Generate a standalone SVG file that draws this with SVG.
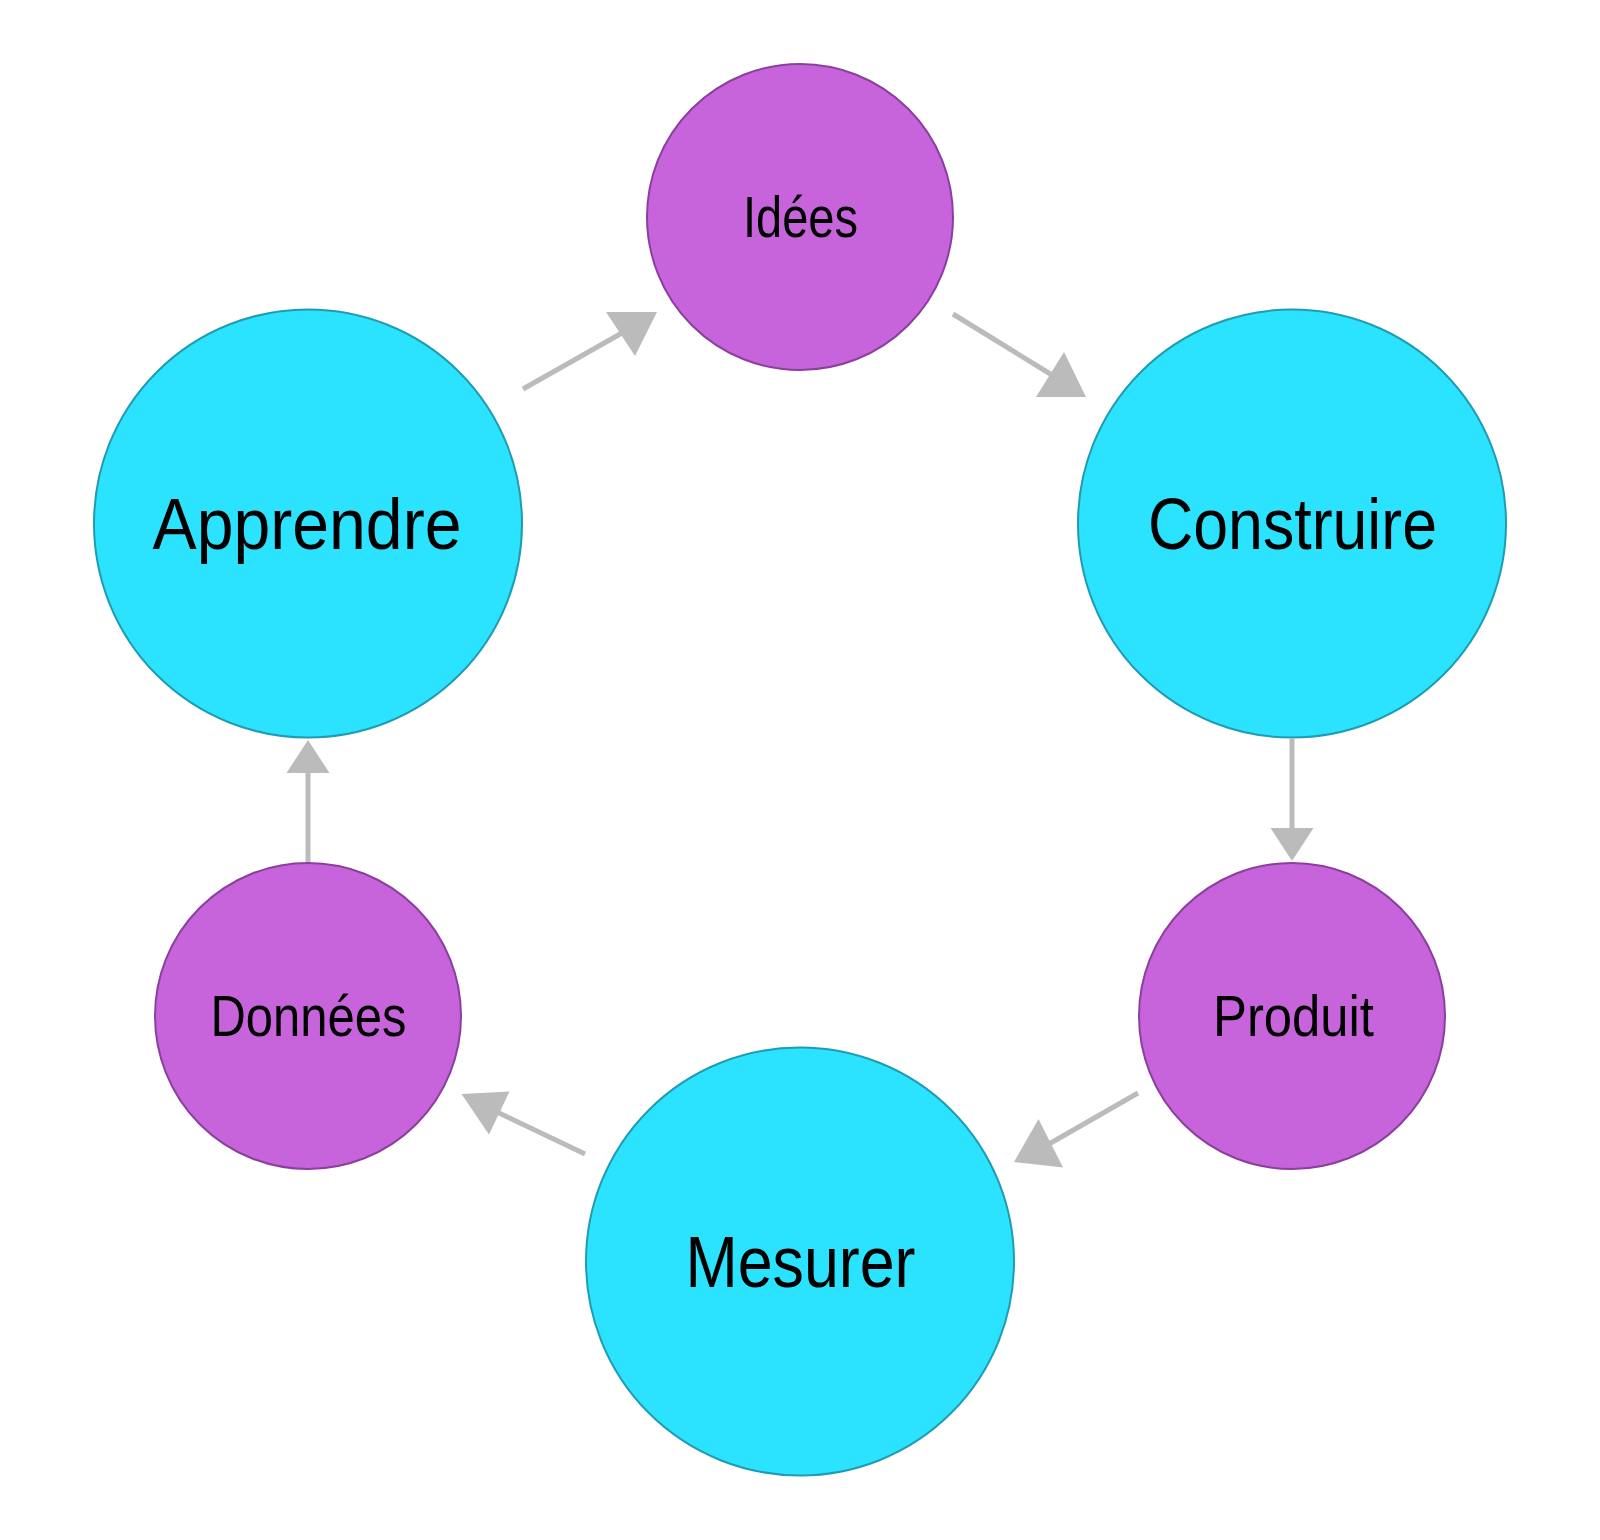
<svg xmlns="http://www.w3.org/2000/svg" width="1600" height="1540" viewBox="0 0 1600 1540">
  <style>
    .big { fill: #2BE3FF; stroke: #1F9CB3; stroke-width: 2; }
    .small { fill: #C764DC; stroke: #8A3F9C; stroke-width: 2; }
    .lbl { font-family: "Liberation Sans", Arial, sans-serif; fill: #000000; text-anchor: middle; }
    .lbig { font-size: 72px; }
    .lsmall { font-size: 58px; }
    .edge { stroke: #BBBBBB; stroke-width: 5; fill: none; }
    .head { fill: #BBBBBB; stroke: none; }
  </style>
  <rect x="0" y="0" width="1600" height="1540" fill="#FFFFFF"/>

  <g id="connectors">
    <line class="edge" x1="523" y1="389" x2="622" y2="333"/>
    <polygon class="head" points="657,312 606,312 635,356"/>
    <line class="edge" x1="953" y1="314" x2="1052" y2="375"/>
    <polygon class="head" points="1086,397 1036,397 1064,352"/>
    <line class="edge" x1="1292" y1="739" x2="1292" y2="830"/>
    <polygon class="head" points="1292,861 1270.5,828 1313.5,828"/>
    <line class="edge" x1="1138" y1="1093" x2="1049" y2="1144"/>
    <polygon class="head" points="1014,1162 1038.5,1119 1063,1167.5"/>
    <line class="edge" x1="585" y1="1154" x2="497" y2="1112"/>
    <polygon class="head" points="461.5,1094 509.5,1091.5 489,1134.5"/>
    <line class="edge" x1="308" y1="862" x2="308" y2="771"/>
    <polygon class="head" points="308,740 286.5,773 329.5,773"/>
  </g>

  <g id="node-idees">
    <circle class="small" cx="800" cy="217" r="153"/>
    <text class="lbl lsmall" x="800.5" y="236.5" textLength="115" lengthAdjust="spacingAndGlyphs">Idées</text>
  </g>
  <g id="node-construire">
    <circle class="big" cx="1292" cy="523.5" r="214"/>
    <text class="lbl lbig" x="1292.5" y="548.5" textLength="289" lengthAdjust="spacingAndGlyphs">Construire</text>
  </g>
  <g id="node-produit">
    <circle class="small" cx="1292" cy="1016" r="153"/>
    <text class="lbl lsmall" x="1293.5" y="1035.5" textLength="161" lengthAdjust="spacingAndGlyphs">Produit</text>
  </g>
  <g id="node-mesurer">
    <circle class="big" cx="800" cy="1261.5" r="214"/>
    <text class="lbl lbig" x="800.5" y="1286.5" textLength="230" lengthAdjust="spacingAndGlyphs">Mesurer</text>
  </g>
  <g id="node-donnees">
    <circle class="small" cx="308" cy="1016" r="153"/>
    <text class="lbl lsmall" x="308.5" y="1035.5" textLength="196" lengthAdjust="spacingAndGlyphs">Données</text>
  </g>
  <g id="node-apprendre">
    <circle class="big" cx="308" cy="523.5" r="214"/>
    <text class="lbl lbig" x="307" y="548.5" textLength="309" lengthAdjust="spacingAndGlyphs">Apprendre</text>
  </g>
</svg>
